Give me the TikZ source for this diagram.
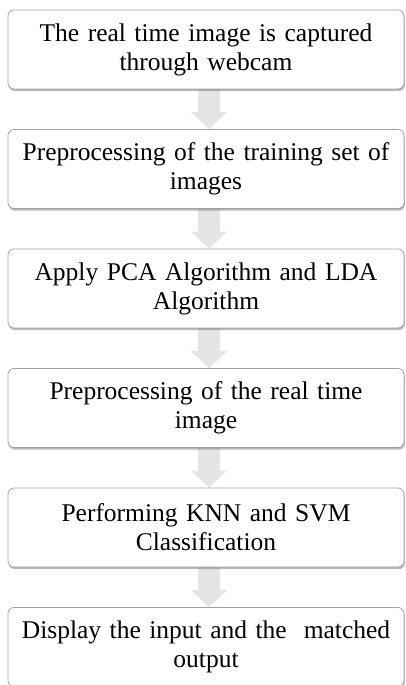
\documentclass[tikz,border=0pt]{standalone}
\usepackage{fontspec}
\setmainfont{Liberation Serif}
\usetikzlibrary{shadows,arrows.meta,backgrounds}
\tikzset{
  stepbox/.style={draw=gray!75, line width=0.7pt, rounded corners=6pt, fill=white,
    minimum width=396pt, minimum height=79pt, text width=380pt, align=center,
    inner sep=0pt, font=\fontsize{25.5}{29}\selectfont,
    drop shadow={shadow xshift=0.8pt, shadow yshift=-2.2pt, opacity=0.45, fill=gray!80!black}},
  flowarrow/.style={line width=22pt, draw=gray!20, -{Triangle[width=35pt,length=17pt]}}
}
\begin{document}
\begin{tikzpicture}[x=1pt,y=1pt]
  \useasboundingbox (0,0) rectangle (405,685);
  % Steps of the pipeline
  \node[stepbox] (capture) at (206,635.5) {The real time image is captured\\through webcam};
  \node[stepbox] (trainset) at (206,516) {Preprocessing of the training set of\\images};
  \node[stepbox] (pcalda) at (206,396.5) {Apply PCA Algorithm and LDA\\Algorithm};
  \node[stepbox] (realtime) at (206,277) {Preprocessing of the real time\\image};
  \node[stepbox] (classify) at (206,157.5) {Performing KNN and SVM\\Classification};
  \node[stepbox] (output) at (206,38) {Display the input and the~ matched\\output};
  % Arrows between steps
  \begin{scope}[on background layer]
    \draw[flowarrow] ([xshift=3pt]capture.south) -- ([xshift=3pt]trainset.north);
    \draw[flowarrow] ([xshift=3pt]trainset.south) -- ([xshift=3pt]pcalda.north);
    \draw[flowarrow] ([xshift=3pt]pcalda.south) -- ([xshift=3pt]realtime.north);
    \draw[flowarrow] ([xshift=3pt]realtime.south) -- ([xshift=3pt]classify.north);
    \draw[flowarrow] ([xshift=3pt]classify.south) -- ([xshift=3pt]output.north);
  \end{scope}
\end{tikzpicture}
\end{document}
